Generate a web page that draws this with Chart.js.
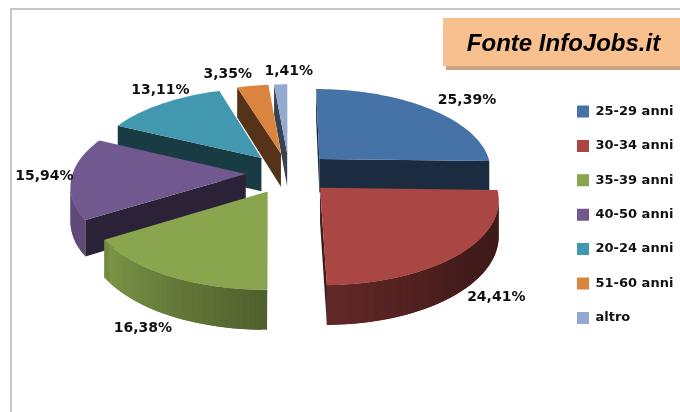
<!DOCTYPE html>
<html>
<head>
<meta charset="utf-8">
<title>Fonte InfoJobs.it</title>
<script src="https://cdn.jsdelivr.net/npm/chart.js@4/dist/chart.umd.min.js"></script>
<style>
  html, body { margin: 0; padding: 0; background: #fff; }
  #wrap { position: relative; width: 680px; height: 412px; overflow: hidden; }
  #frame { position: absolute; left: 10px; top: 8px; right: 0; bottom: 0; border-top: 2px solid #c6c6c6; border-left: 2px solid #c6c6c6; }
  #source {
    position: absolute; left: 443px; top: 18px; width: 237px; height: 48px;
    background: #f9c08f; box-shadow: 3px 4px 0 #c9a482; text-align: center; text-indent: 4px;
    font: italic bold 24px/50px "Liberation Sans", Arial, sans-serif; color: #000;
  }
  canvas { position: absolute; left: 0; top: 0; }
</style>
</head>
<body>
<div id="wrap">
  <div id="frame"></div>
  <canvas id="chart-ages" width="680" height="412"></canvas>
  <div id="source">Fonte InfoJobs.it</div>
</div>
<script>
const categories = ['25-29 anni', '30-34 anni', '35-39 anni', '40-50 anni', '20-24 anni', '51-60 anni', 'altro'];
const shares = [25.39, 24.41, 16.38, 15.94, 13.11, 3.35, 1.41];
const colors = ['#4572A7', '#AA4643', '#89A54E', '#71588F', '#4198AF', '#DB843D', '#93A9CF'];
// label offset from the rim midpoint of each slice
const labelShift = [[38, -8], [37, 43], [-26, 52], [-27, -2], [-2, -13], [-25, -11], [8, -13]];

const explode = 0.25;      // slice offset, in radii
const squash = 0.472;      // tilt of the pie plane
const persp = 0.121;       // near slices bigger than far ones
const thickness = 0.197;   // wall height, in radii

function shade(hex, k) {
  const n = parseInt(hex.slice(1), 16);
  const c = [n >> 16, (n >> 8) & 255, n & 255].map(v => Math.round(v * k));
  return `rgb(${c[0]},${c[1]},${c[2]})`;
}

// lighter towards the left, dark on the right
function wallShade(angle) {
  let deg = (angle * 180 / Math.PI + 90) % 360;
  if (deg < 0) deg += 360;
  if (deg < 130) return 0.38;
  if (deg < 180) return 0.38 + 0.2 * (deg - 130) / 50;
  if (deg < 235) return 0.58 + 0.32 * (deg - 180) / 55;
  return 0.84;
}

const pie3d = {
  id: 'pie3d',
  afterLayout(chart) {
    // legend sits outside the chart area
    const lg = chart.legend;
    const pad = lg.options.labels.padding;
    lg.left = 577 - pad;
    lg.right = 680;
    lg.top = 105 - pad;
    lg.bottom = 412;
  },
  beforeDatasetDraw(chart, args) {
    const ctx = chart.ctx;
    const arcs = chart.getDatasetMeta(args.index).data;

    const project = (arc, a, r, down) => {
      const mid = (arc.startAngle + arc.endAngle) / 2;
      const X = r * Math.cos(a) + explode * Math.cos(mid);
      const Y = r * Math.sin(a) + explode * Math.sin(mid);
      const w = 1 - persp * Y;
      const R = arc.outerRadius;
      return {
        x: arc.x + R * X / w,
        y: arc.y + R * (squash * Y + (down ? thickness : 0)) / w
      };
    };

    const outline = (arc, down) => {
      const pts = [project(arc, arc.startAngle, 0, down)];
      const steps = Math.max(4, Math.ceil((arc.endAngle - arc.startAngle) / 0.03));
      for (let i = 0; i <= steps; i++) {
        const a = arc.startAngle + (arc.endAngle - arc.startAngle) * i / steps;
        const p = project(arc, a, 1, down);
        p.a = a;
        pts.push(p);
      }
      return pts;
    };

    const fillPoly = (pts, color) => {
      ctx.beginPath();
      pts.forEach((p, i) => i ? ctx.lineTo(p.x, p.y) : ctx.moveTo(p.x, p.y));
      ctx.closePath();
      ctx.fillStyle = color;
      ctx.fill();
    };

    const area = q => q.reduce((s, p, i) => {
      const n = q[(i + 1) % q.length];
      return s + p.x * n.y - n.x * p.y;
    }, 0);

    // back slices first
    const order = arcs.map((arc, i) => i).sort((i, j) =>
      Math.sin((arcs[i].startAngle + arcs[i].endAngle) / 2) - Math.sin((arcs[j].startAngle + arcs[j].endAngle) / 2));

    order.forEach(i => {
      const arc = arcs[i];
      const base = colors[i];
      const top = outline(arc, false);
      const low = outline(arc, true);
      const last = top.length - 1;
      // rim strips overlap the next one, so no seams show
      for (let k = 1; k < last; k++) {
        if (area([top[k], top[k + 1], low[k + 1], low[k]]) >= 0) continue;
        const end = Math.min(k + 2, last);
        fillPoly([top[k], top[end], low[end], low[k]], shade(base, wallShade((top[k].a + top[k + 1].a) / 2)));
      }
      // the two cut faces
      [[top[0], top[1], low[1], low[0]], [top[last], top[0], low[0], low[last]]].forEach(q => {
        if (area(q) < 0) fillPoly(q, shade(base, 0.39));
      });
      fillPoly(top, base);
    });

    // value labels
    ctx.font = 'bold 14px "DejaVu Sans", sans-serif';
    ctx.fillStyle = '#111';
    ctx.textAlign = 'center';
    ctx.textBaseline = 'middle';
    arcs.forEach((arc, i) => {
      const p = project(arc, (arc.startAngle + arc.endAngle) / 2, 1, false);
      const text = shares[i].toFixed(2).replace('.', ',') + '%';
      ctx.fillText(text, p.x + labelShift[i][0], p.y + labelShift[i][1]);
    });
    return false;
  }
};

new Chart(document.getElementById('chart-ages'), {
  type: 'pie',
  data: {
    labels: categories,
    datasets: [{ data: shares, backgroundColor: colors, borderWidth: 0 }]
  },
  options: {
    responsive: false,
    animation: false,
    events: [],
    layout: { padding: { left: 0, top: 0, right: 102, bottom: 66 } },
    plugins: {
      tooltip: { enabled: false },
      legend: {
        position: 'chartArea',
        align: 'start',
        labels: {
          boxWidth: 12,
          boxHeight: 12,
          padding: 21.4,
          color: '#111',
          font: { family: '"DejaVu Sans", sans-serif', size: 13, weight: 'bold' }
        }
      }
    }
  },
  plugins: [pie3d]
});
</script>
</body>
</html>
